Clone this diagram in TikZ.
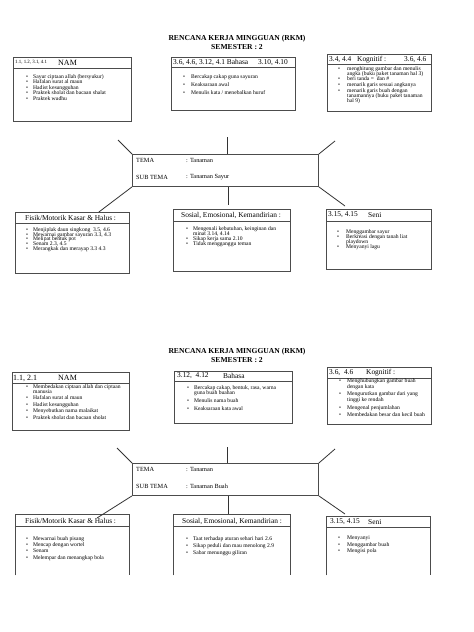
\documentclass[tikz,border=0pt]{standalone}
\usepackage{fontspec}
\setmainfont{Liberation Serif}
\usetikzlibrary{calc}
\newlength{\bw}
\newlength{\ig}
% list item with bullet, continuation line, and gap
\newcommand{\itm}[1]{\hbox{\makebox[\bw][l]{\textbullet}#1}}
\newcommand{\cnt}[1]{\hbox{\hspace{\bw}#1}}
\newcommand{\gp}{\vskip\ig}
% #1 baselineskip, #2 item gap, #3 bullet width, #4 rows
\newcommand{\blist}[4]{{\fontsize{5.6}{#1}\selectfont\setlength{\bw}{#3pt}\setlength{\ig}{#2pt}%
\vtop{\baselineskip=#1pt\lineskiplimit=-100pt\lineskip=0pt #4}}}
\tikzset{
  box/.style={draw=black!70, line width=0.9pt, anchor=north west, inner sep=0pt},
  openbox/.style={anchor=north west, inner sep=0pt},
  sep/.style={draw=black!70, line width=0.9pt},
  conn/.style={draw=black!80, line width=0.8pt},
  hdr/.style={anchor=west, inner sep=0pt, font=\fontsize{7.4}{8}\selectfont},
  big/.style={anchor=west, inner sep=0pt, font=\fontsize{8}{9}\selectfont},
  small/.style={anchor=west, inner sep=0pt, font=\fontsize{4.9}{5}\selectfont},
  tema/.style={anchor=west, inner sep=0pt, font=\fontsize{6.3}{7}\selectfont},
  lst/.style={anchor=base west, inner sep=0pt},
  title/.style={inner sep=0pt, font=\fontsize{7.6}{9}\selectfont\bfseries}
}
\begin{document}
\begin{tikzpicture}[x=1pt,y=-1pt]
\useasboundingbox[fill=white] (0,0) rectangle (474,632);

% ================= TOP HALF =================
\node[title] (t1a) at (237,39) {RENCANA KERJA MINGGUAN (RKM)};
\node[title] (t1b) at (237,47) {SEMESTER : 2};

% NAM
\node[box, minimum width=118pt, minimum height=64pt] (nam1) at (13,57) {};
\draw[sep] (nam1.west |- 0,68) -- (nam1.east |- 0,68);
\node[small] (nam1a) at (15,62.5) {1.1, 1.2, 3.1, 4.1};
\node[big] (nam1b) at (58,62.5) {NAM};
\node[lst] (nam1l) at (26,78.3) {\blist{5.5}{0}{7}{%
\itm{Sayur ciptaan allah (bersyukur)}\itm{Hafalan surat al maun}\itm{Hadist kesungguhan}\itm{Praktek sholat dan bacaan shalat}\itm{Praktek wudhu}}};

% Bahasa
\node[box, minimum width=124pt, minimum height=53pt] (bah1) at (171,57) {};
\draw[sep] (bah1.west |- 0,67) -- (bah1.east |- 0,67);
\node[hdr] (bah1a) at (173,62.5) {3.6, 4.6, 3.12, 4.1 Bahasa};
\node[hdr] (bah1b) at (258,62.5) {3.10, 4.10};
\node[lst] (bah1l) at (183,78.3) {\blist{5}{3}{8}{%
\itm{Bercakap cakap guna sayuran}\gp\itm{Keaksaraan awal}\gp\itm{Menulis kata / menebalkan huruf}}};

% Kognitif
\node[box, minimum width=104pt, minimum height=57pt] (kog1) at (327,54) {};
\draw[sep] (kog1.west |- 0,64) -- (kog1.east |- 0,64);
\node[hdr] (kog1a) at (329,59.5) {3.4, 4.4};
\node[hdr] (kog1b) at (357,59.5) {Kognitif :};
\node[hdr] (kog1c) at (404,59.5) {3.6, 4.6};
\node[lst] (kog1l) at (338,70.3) {\blist{5}{0.6}{9}{%
\itm{menghitung gambar dan menulis}\cnt{angka (buku paket tanaman hal 3)}\gp
\itm{beri tanda =\ \ dan \#}\gp\itm{menarik garis sesuai angkanya}\gp
\itm{menarik garis buah dengan}\cnt{tanamannya (buku paket tanaman}\cnt{hal 9)}}};

% TEMA
\node[box, minimum width=186pt, minimum height=32pt] (tema1) at (132,154) {};
\node[tema] (tema1a) at (136,160) {TEMA};
\node[tema] (tema1b) at (186,160) {: Tanaman};
\node[tema] (tema1c) at (136,177) {SUB TEMA};
\node[tema] (tema1d) at (186,177) {: Tanaman Sayur};

% Fisik
\node[box, minimum width=114pt, minimum height=61pt] (fis1) at (15,212) {};
\draw[sep] (fis1.west |- 0,223) -- (fis1.east |- 0,223);
\node[hdr] (fis1a) at (25,217.5) {Fisik/Motorik Kasar \& Halus :};
\node[lst] (fis1l) at (26,231.3) {\blist{4.7}{0}{7}{%
\itm{Menjiplak daun singkong\ \ 3.5, 4.6}\itm{Mewarnai gambar sayuran 3.3, 4.3}\itm{Melipat bentuk pot}\itm{Senam 2.3, 4.5}\itm{Merangkak dan merayap 3.3 4.3}}};

% Sosial
\node[box, minimum width=117pt, minimum height=62pt] (sos1) at (173,209) {};
\draw[sep] (sos1.west |- 0,221) -- (sos1.east |- 0,221);
\node[hdr] (sos1a) at (181,215) {Sosial, Emosional, Kemandirian :};
\node[lst] (sos1l) at (186,230.3) {\blist{4.8}{0.4}{7}{%
\itm{Mengenali kebutuhan, keinginan dan}\cnt{minat 3.14, 4.14}\gp\itm{Sikap kerja sama 2.10}\gp\itm{Tidak mengganggu teman}}};

% Seni
\node[box, minimum width=105pt, minimum height=60pt] (sen1) at (326,209) {};
\draw[sep] (sen1.west |- 0,221) -- (sen1.east |- 0,221);
\node[hdr] (sen1a) at (328,215) {3.15, 4.15};
\node[hdr] (sen1b) at (368,215) {Seni};
\node[lst] (sen1l) at (337,233.6) {\blist{4.6}{0.6}{9}{%
\itm{Menggambar sayur}\gp\itm{Berkreasi dengan tanah liat}\cnt{playdown}\gp\itm{Menyanyi lagu}}};

% connectors top
\coordinate (ul1) at (118,140);
\coordinate (ut1) at (227,137);
\coordinate (ur1) at (335,141);
\coordinate (bv1) at (228,205);
\coordinate (br1) at (345,206);
\draw[conn] (ul1) -- (tema1.north west);
\draw[conn] (ut1) -- (ut1 |- tema1.north);
\draw[conn] (ur1) -- (tema1.north east);
\draw[conn] (tema1.south west) -- ($(fis1.north west)!0.73!(fis1.north east)$);
\draw[conn] (bv1 |- tema1.south) -- (bv1);
\draw[conn] (tema1.south east) -- (br1);

% ================= BOTTOM HALF =================
\node[title] (t2a) at (237,352) {RENCANA KERJA MINGGUAN (RKM)};
\node[title] (t2b) at (237,360) {SEMESTER : 2};

% NAM
\node[box, minimum width=117pt, minimum height=58pt] (nam2) at (12,372) {};
\draw[sep] (nam2.west |- 0,383) -- (nam2.east |- 0,383);
\node[big] (nam2a) at (13,378) {1.1, 2.1};
\node[big] (nam2b) at (58,378) {NAM};
\node[lst] (nam2l) at (26,388.3) {\blist{5}{1.5}{7}{%
\itm{Membedakan ciptaan allah dan ciptaan}\cnt{manusia}\gp\itm{Hafalan surat al maun}\gp\itm{Hadist kesungguhan}\gp\itm{Menyebutkan nama malaikat}\gp\itm{Praktek sholat dan bacaan sholat}}};

% Bahasa
\node[box, minimum width=118pt, minimum height=52pt] (bah2) at (174,371) {};
\draw[sep] (bah2.west |- 0,381) -- (bah2.east |- 0,381);
\node[hdr] (bah2a) at (177,376) {3.12,\ \ 4.12};
\node[hdr] (bah2b) at (223,376) {Bahasa};
\node[lst] (bah2l) at (187,389) {\blist{5}{3}{7}{%
\itm{Bercakap cakap, bentuk, rasa, warna}\cnt{guna buah buahan}\gp\itm{Menulis nama buah}\gp\itm{Keaksaraan kata awal}}};

% Kognitif
\node[box, minimum width=104pt, minimum height=57pt] (kog2) at (327,367) {};
\draw[sep] (kog2.west |- 0,378) -- (kog2.east |- 0,378);
\node[hdr] (kog2a) at (329,373) {3.6,\ \ 4.6};
\node[hdr] (kog2b) at (366,373) {Kognitif :};
\node[lst] (kog2l) at (339,382.3) {\blist{6}{1.5}{8}{%
\itm{Menghubungkan gambar buah}\cnt{dengan kata}\gp\itm{Mengurutkan gambar dari yang}\cnt{tinggi ke rendah}\gp\itm{Mengenal penjumlahan}\gp\itm{Membedakan besar dan kecil buah}}};

% TEMA
\node[box, minimum width=186pt, minimum height=32pt] (tema2) at (132,463) {};
\node[tema] (tema2a) at (136,469) {TEMA};
\node[tema] (tema2b) at (186,469) {: Tanaman};
\node[tema] (tema2c) at (136,486) {SUB TEMA};
\node[tema] (tema2d) at (186,486) {: Tanaman Buah};

% Fisik (open bottom)
\node[openbox, minimum width=114pt, minimum height=61pt] (fis2) at (15,514) {};
\draw[sep] (fis2.south west) -- (fis2.north west) -- (fis2.north east) -- (fis2.south east);
\draw[sep] (fis2.west |- 0,526) -- (fis2.east |- 0,526);
\node[hdr] (fis2a) at (25,521) {Fisik/Motorik Kasar \& Halus :};
\node[lst] (fis2l) at (26,540.3) {\blist{6.3}{0}{7}{%
\itm{Mewarnai buah pisang}\itm{Mencap dengan wortel}\itm{Senam}\itm{Melempar dan menangkap bola}}};

% Sosial (open bottom)
\node[openbox, minimum width=117pt, minimum height=61pt] (sos2) at (173,514) {};
\draw[sep] (sos2.south west) -- (sos2.north west) -- (sos2.north east) -- (sos2.south east);
\draw[sep] (sos2.west |- 0,526) -- (sos2.east |- 0,526);
\node[hdr] (sos2a) at (182,521) {Sosial, Emosional, Kemandirian :};
\node[lst] (sos2l) at (186,540.3) {\blist{7}{0}{7}{%
\itm{Taat terhadap aturan sehari hari 2.6}\itm{Sikap peduli dan mau menolong 2.9}\itm{Sabar menunggu giliran}}};

% Seni (open bottom)
\node[openbox, minimum width=104pt, minimum height=59pt] (sen2) at (326,516) {};
\draw[sep] (sen2.south west) -- (sen2.north west) -- (sen2.north east) -- (sen2.south east);
\draw[sep] (sen2.west |- 0,527) -- (sen2.east |- 0,527);
\node[hdr] (sen2a) at (330,522) {3.15, 4.15};
\node[hdr] (sen2b) at (368,522) {Seni};
\node[lst] (sen2l) at (338,539.3) {\blist{6.7}{0}{9}{%
\itm{Menyanyi}\itm{Menggambar buah}\itm{Mengisi pola}}};

% connectors bottom
\coordinate (ul2) at (117,448);
\coordinate (ut2) at (227,447);
\coordinate (ur2) at (335,449);
\coordinate (bl2) at (97,518);
\coordinate (br2) at (345,514);
\draw[conn] (ul2) -- (tema2.north west);
\draw[conn] (ut2) -- (ut2 |- tema2.north);
\draw[conn] (ur2) -- (tema2.north east);
\draw[conn] (tema2.south west) -- (bl2);
\draw[conn] (228,0 |- tema2.south) -- (228,0 |- sos2.north);
\draw[conn] (tema2.south east) -- (br2);
\end{tikzpicture}
\end{document}
